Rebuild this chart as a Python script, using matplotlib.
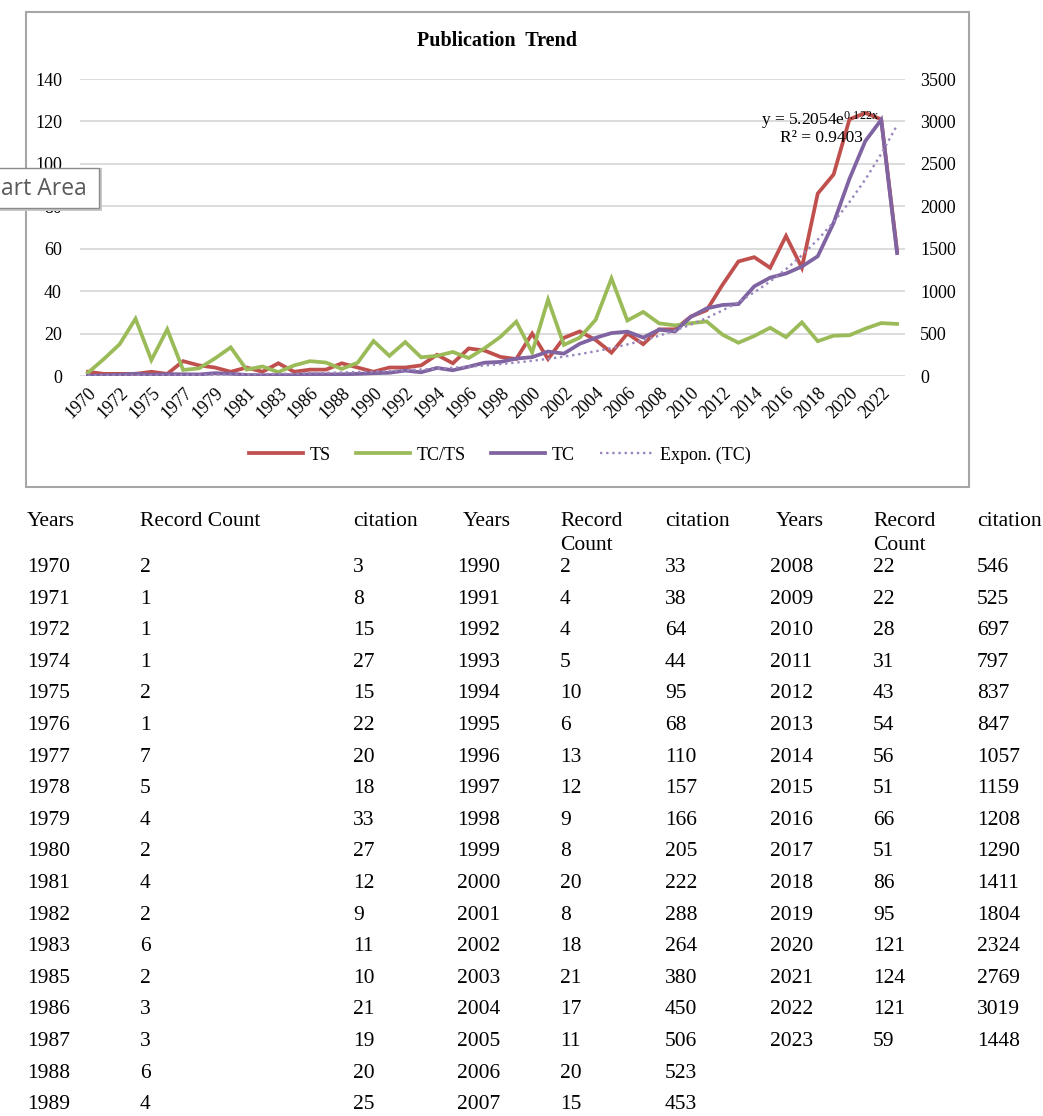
import numpy as np
import matplotlib
matplotlib.use("Agg")
import matplotlib.pyplot as plt
from matplotlib.patches import Rectangle
from matplotlib.lines import Line2D

plt.rcParams["font.family"] = ["Liberation Serif", "DejaVu Serif"]
plt.rcParams["mathtext.default"] = "regular"

# data (TS = record count, TC = citations)
years = [1970, 1971, 1972, 1974, 1975, 1976, 1977, 1978, 1979, 1980, 1981, 1982,
         1983, 1985, 1986, 1987, 1988, 1989,
         1990, 1991, 1992, 1993, 1994, 1995, 1996, 1997, 1998, 1999, 2000, 2001,
         2002, 2003, 2004, 2005, 2006, 2007,
         2008, 2009, 2010, 2011, 2012, 2013, 2014, 2015, 2016, 2017, 2018, 2019,
         2020, 2021, 2022, 2023]
record_count = [2, 1, 1, 1, 2, 1, 7, 5, 4, 2, 4, 2, 6, 2, 3, 3, 6, 4,
                2, 4, 4, 5, 10, 6, 13, 12, 9, 8, 20, 8, 18, 21, 17, 11, 20, 15,
                22, 22, 28, 31, 43, 54, 56, 51, 66, 51, 86, 95, 121, 124, 121, 59]
citation = [3, 8, 15, 27, 15, 22, 20, 18, 33, 27, 12, 9, 11, 10, 21, 19, 20, 25,
            33, 38, 64, 44, 95, 68, 110, 157, 166, 205, 222, 288, 264, 380, 450, 506, 523, 453,
            546, 525, 697, 797, 837, 847, 1057, 1159, 1208, 1290, 1411, 1804, 2324, 2769, 3019, 1448]
left_ticks = [0, 20, 40, 60, 80, 100, 120, 140]
right_ticks = [0, 500, 1000, 1500, 2000, 2500, 3000, 3500]
table_groups = [(0, 18), (18, 36), (36, 52)]

W, H = 1043, 1116


def fx(px):
    return px / W


def fy(py):
    return 1 - py / H


RED = "#C0504D"
GREEN = "#9BBB59"
PURPLE = "#8064A2"
TREND = "#9a86bd"

ts = np.array(record_count, dtype=float)
tc = np.array(citation, dtype=float)
ratio = tc / ts
idx = np.arange(len(years))

# exponential trendline, fitted the Excel way (ln y on x = 1..n)
xs = idx + 1
b, ln_a = np.polyfit(xs, np.log(tc), 1)
trend = np.exp(ln_a) * np.exp(b * xs)

fig = plt.figure(figsize=(W / 100, H / 100), dpi=100)

# plot area
ax = fig.add_axes([fx(80), fy(376), fx(905) - fx(80), fy(79) - fy(376)])
ax2 = ax.twinx()

ax.plot(idx, ts, color=RED, lw=2.7, solid_joinstyle="miter")
ax.plot(idx, ratio, color=GREEN, lw=2.7, solid_joinstyle="miter")
ax2.plot(idx, tc, color=PURPLE, lw=2.7, solid_joinstyle="miter")
ax2.plot(idx, trend, color=TREND, lw=1.7, ls=(0, (1, 1.6)))

ax.set_xlim(-0.5, len(years) - 0.5)
ax.set_ylim(0, 140)
ax2.set_ylim(0, 3500)
ax.set_yticks(left_ticks)
ax2.set_yticks(right_ticks)
ax.set_xticks(idx[::2])
ax.set_xticklabels([str(y) for y in years[::2]], rotation=45, ha="right",
                   rotation_mode="anchor")
ax.yaxis.grid(True, color="#d9d9d9", lw=1.3)
ax.set_axisbelow(True)
for a in (ax, ax2):
    for s in a.spines.values():
        s.set_visible(False)
    a.tick_params(length=0, labelsize=13)
ax.tick_params(axis="y", pad=13)
ax.tick_params(axis="x", pad=6)
ax2.tick_params(axis="y", pad=11)

# chart title, equation, legend
fig.text(fx(497), fy(41), "Publication  Trend", ha="center", va="center",
         fontsize=14.5, fontweight="bold")
fig.text(fx(820), fy(120), "y = 5.2054e$^{0.122x}$", ha="center", va="center",
         fontsize=12.5)
fig.text(fx(821), fy(138), "R² = 0.9403", ha="center", va="center", fontsize=12.5)

handles = [Line2D([], [], color=RED, lw=2.7),
           Line2D([], [], color=GREEN, lw=2.7),
           Line2D([], [], color=PURPLE, lw=2.7),
           Line2D([], [], color=TREND, lw=1.7, ls=(0, (1, 1.6)))]
fig.legend(handles, ["TS", "TC/TS", "TC", "Expon. (TC)"], loc="center",
           bbox_to_anchor=(fx(500), fy(455)), ncol=4, frameon=False,
           handlelength=3.0, handletextpad=0.35, columnspacing=1.4, fontsize=13)

# chart area border
fig.patches.append(Rectangle((fx(26), fy(487)), fx(969) - fx(26), fy(12) - fy(487),
                             transform=fig.transFigure, fill=False,
                             edgecolor="#a6a6a6", lw=1.5))

# tooltip over the chart
fig.patches.append(Rectangle((fx(-2), fy(211)), fx(104), fy(168) - fy(211),
                             transform=fig.transFigure, facecolor="#c8c8c8",
                             edgecolor="none", zorder=9))
fig.patches.append(Rectangle((fx(-2), fy(208)), fx(101), fy(168) - fy(208),
                             transform=fig.transFigure, facecolor="white",
                             edgecolor="#8a8a8a", lw=1, zorder=10))
fig.text(fx(1), fy(189), "art Area", ha="left", va="center", fontsize=16.5,
         color="#5a5a5a", family=["Open Sans", "DejaVu Sans"], zorder=11)

# data table under the chart
col_x = [27, 140, 353, 457, 560, 665, 770, 873, 977]
head_x = [27, 140, 353, 463, 560, 665, 776, 873, 977]
row0, row_step = 572, 31.6
for g, (start, stop) in enumerate(table_groups):
    rc_head = "Record Count" if g == 0 else "Record\nCount"
    for k, label in enumerate(["Years", rc_head, "citation"]):
        parts = label.split("\n")
        fig.text(fx(head_x[3 * g + k]), fy(526), parts[0],
                 ha="left", va="baseline", fontsize=15.5)
        if len(parts) > 1:
            fig.text(fx(head_x[3 * g + k]), fy(550), parts[1],
                     ha="left", va="baseline", fontsize=15.5)
    for r, i in enumerate(range(start, stop)):
        yb = fy(row0 + r * row_step)
        for k, val in enumerate([years[i], record_count[i], citation[i]]):
            fig.text(fx(col_x[3 * g + k]), yb, str(val), ha="left",
                     va="baseline", fontsize=15.5)

fig.savefig("out.png", dpi=100)
